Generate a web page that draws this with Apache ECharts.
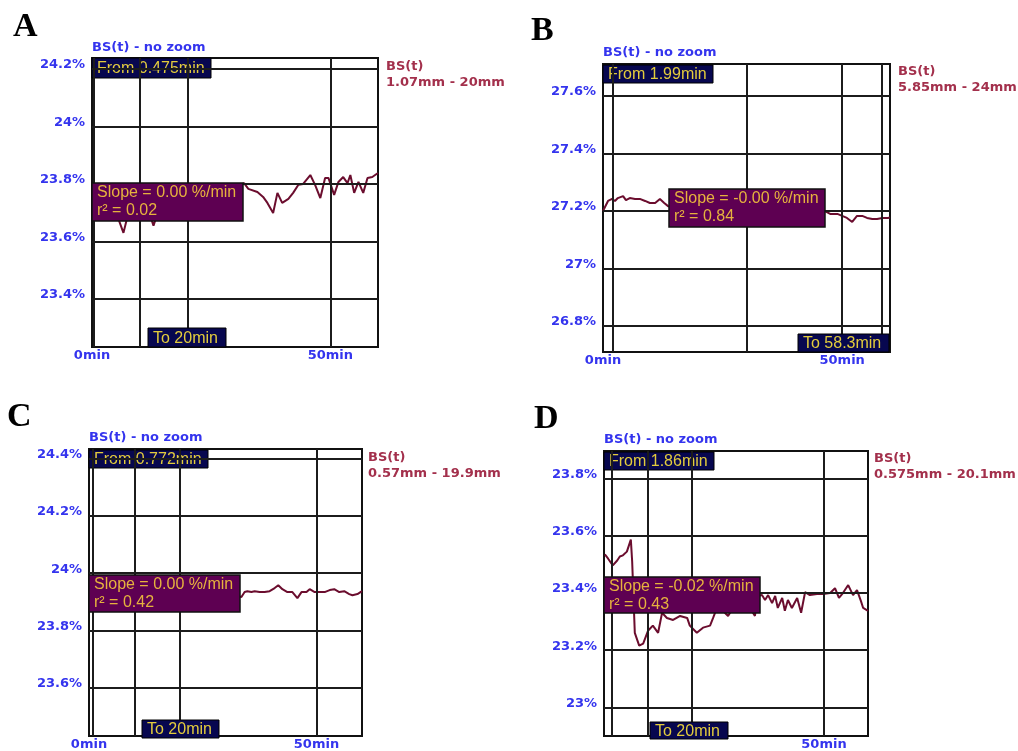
<!DOCTYPE html>
<html>
<head>
<meta charset="utf-8">
<script src="https://cdn.jsdelivr.net/npm/echarts@6/dist/echarts.min.js"></script>
<style>html,body{margin:0;padding:0;background:#fff;}#c{width:1018px;height:751px;}</style>
</head>
<body>
<div id="c"></div>
<script>
// ---------- data (time in min, BS in %) ----------
const aTime = [0.475, 1.5, 3, 4.5, 5.5, 6.6, 7.5, 9, 10.5, 12, 12.9, 13.8, 15, 17, 19, 21, 23, 25, 27, 29, 30.5, 31.9, 32.8, 34.7, 35.9, 36.8, 38.0, 38.9, 39.9, 41.2, 42.2, 43.3, 44.3, 45.8, 46.8, 47.9, 48.9, 49.6, 50.8, 51.7, 52.7, 53.6, 54.2, 55.0, 55.9, 56.9, 57.8, 58.8, 60.0];
const aVal  = [23.70, 23.71, 23.72, 23.70, 23.68, 23.63, 23.69, 23.72, 23.71, 23.70, 23.655, 23.70, 23.72, 23.73, 23.72, 23.74, 23.75, 23.74, 23.76, 23.77, 23.79, 23.803, 23.783, 23.772, 23.755, 23.734, 23.699, 23.769, 23.734, 23.748, 23.769, 23.797, 23.800, 23.831, 23.797, 23.751, 23.821, 23.821, 23.762, 23.807, 23.824, 23.803, 23.831, 23.769, 23.807, 23.769, 23.821, 23.824, 23.838];

const bTime = [0, 1.05, 1.9, 2.5, 3.1, 4.2, 4.8, 5.6, 6.7, 7.7, 8.8, 9.8, 10.9, 11.9, 12.8, 13.6, 15, 18, 21, 24, 27, 30, 33, 36, 39, 42, 45, 46.4, 47.5, 49.0, 50.0, 51.0, 52.1, 53.1, 54.2, 55.2, 56.3, 57.3, 58.4, 59.6, 60];
const bVal  = [27.200, 27.235, 27.242, 27.235, 27.245, 27.252, 27.238, 27.245, 27.242, 27.242, 27.235, 27.228, 27.228, 27.242, 27.228, 27.217, 27.215, 27.222, 27.212, 27.210, 27.206, 27.208, 27.200, 27.202, 27.196, 27.198, 27.195, 27.200, 27.190, 27.190, 27.183, 27.176, 27.162, 27.183, 27.183, 27.176, 27.172, 27.172, 27.176, 27.176, 27.178];

const cTime = [0, 0.772, 3, 6, 9, 12, 15, 18, 21, 24, 27, 30, 33.5, 34.2, 34.8, 35.7, 36.4, 37.5, 38.6, 39.7, 40.8, 41.6, 42.5, 43.6, 44.7, 45.8, 46.7, 47.8, 48.5, 49.6, 50.7, 51.8, 52.9, 53.9, 55.0, 56.1, 57.2, 57.9, 59.0, 60.0];
const cVal  = [23.917, 23.918, 23.922, 23.915, 23.925, 23.920, 23.928, 23.922, 23.930, 23.925, 23.932, 23.928, 23.917, 23.934, 23.937, 23.934, 23.937, 23.934, 23.934, 23.937, 23.948, 23.958, 23.944, 23.934, 23.934, 23.913, 23.934, 23.934, 23.944, 23.934, 23.934, 23.934, 23.941, 23.944, 23.934, 23.937, 23.927, 23.923, 23.927, 23.937];

const dTime = [0.2, 0.9, 2.0, 3.0, 3.6, 4.3, 5.2, 6.1, 6.4, 7.0, 8.0, 8.9, 10.0, 11.1, 12.3, 13.2, 14.3, 15.7, 17.3, 18.9, 19.5, 21.1, 22.5, 24.1, 24.8, 25.9, 27.0, 28.2, 29.3, 30.5, 32.0, 33.2, 34.3, 35.0, 35.9, 36.6, 37.3, 38.2, 38.9, 39.5, 40.5, 41.1, 41.8, 42.7, 43.9, 44.8, 45.7, 46.8, 48.4, 49.8, 51.4, 52.5, 53.4, 54.3, 55.5, 56.6, 57.5, 58.4, 58.9, 60.0];
const dVal  = [23.535, 23.521, 23.497, 23.514, 23.528, 23.532, 23.545, 23.587, 23.511, 23.261, 23.216, 23.223, 23.268, 23.286, 23.261, 23.331, 23.313, 23.306, 23.320, 23.313, 23.286, 23.261, 23.279, 23.286, 23.313, 23.358, 23.338, 23.320, 23.348, 23.365, 23.383, 23.348, 23.320, 23.390, 23.393, 23.376, 23.393, 23.365, 23.390, 23.348, 23.383, 23.338, 23.376, 23.348, 23.383, 23.331, 23.403, 23.393, 23.397, 23.397, 23.400, 23.417, 23.383, 23.400, 23.428, 23.393, 23.410, 23.372, 23.348, 23.338];

// y tick labels / horizontal grid lines
const aYTicks = [23.4, 23.6, 23.8, 24.0, 24.2];
const bYTicks = [26.8, 27.0, 27.2, 27.4, 27.6];
const cYTicks = [23.6, 23.8, 24.0, 24.2, 24.4];
const dYTicks = [23.0, 23.2, 23.4, 23.6, 23.8];
// x tick labels
const aXTicks = [0, 50];
const bXTicks = [0, 50];
const cXTicks = [0, 50];
const dXTicks = [50];
// From markers (min) and vertical grid lines / To markers (min)
const fromMarks = [0.475, 1.99, 0.772, 1.86];
const aVLines = [10, 20, 50];
const bVLines = [30, 50, 58.3];
const cVLines = [10, 20, 50];
const dVLines = [10, 20, 50];
// axis ranges
const aYRange = [23.233, 24.238];
const bYRange = [26.710, 27.711];
const cYRange = [23.430, 24.435];
const dYRange = [22.900, 23.897];
// texts
const panelLetters = ['A', 'B', 'C', 'D'];
const fromTexts = ['From 0.475min', 'From 1.99min', 'From 0.772min', 'From 1.86min'];
const toTexts = ['To 20min', 'To 58.3min', 'To 20min', 'To 20min'];
const slopeTexts = ['Slope = 0.00 %/min', 'Slope = -0.00 %/min', 'Slope = 0.00 %/min', 'Slope = -0.02 %/min'];
const r2Texts = ['r² = 0.02', 'r² = 0.84', 'r² = 0.42', 'r² = 0.43'];
const rangeTexts = ['1.07mm - 20mm', '5.85mm - 24mm', '0.57mm - 19.9mm', '0.575mm - 20.1mm'];

// ---------- styles / layout ----------
const BLUE = '#3434ee', MAROON = '#a3304c', LINE = '#6b0d2e', GRIDC = '#1c1c1c';
const NAVY = '#07074f', PURPLE = '#5e0052', YEL = '#e3cc3c', ORG = '#e6b23e';

const grids = [
  {left: 92, top: 58, width: 286, height: 289},
  {left: 603, top: 64, width: 287, height: 288},
  {left: 89, top: 449, width: 273, height: 289},
  {left: 604, top: 451, width: 264, height: 288}
];
const times = [aTime, bTime, cTime, dTime];
const vals = [aVal, bVal, cVal, dVal];
const yTicks = [aYTicks, bYTicks, cYTicks, dYTicks];
const xTicks = [aXTicks, bXTicks, cXTicks, dXTicks];
const vLines = [aVLines, bVLines, cVLines, dVLines];
const yRanges = [aYRange, bYRange, cYRange, dYRange];

// annotation boxes (pixel layout)
const fromBox = [[92,58,119,20],[603,65,110,18],[89,450,119,18],[604,452,110,18]];
const toBox = [[148,328,78,19],[798,334,91,18],[142,720,77,18],[650,722,78,17]];
const slopeBox = [[92,183,151,38],[669,189,156,38],[89,575,151,37],[604,577,156,36]];
const letterPos = [[13,10],[531,14],[7,400],[534,402]];
const titlePos = [[92,41],[603,46],[89,431],[604,433]];
const rightPos = [[386,59],[898,64],[368,450],[874,451]];

const fmtPct = v => String(+(+v).toFixed(1)) + '%';
const lblStyle = {color: BLUE, fontWeight: 'bold', fontSize: 13, fontFamily: 'DejaVu Sans'};

const option = {
  animation: false,
  grid: grids.map(g => Object.assign({show: true, borderColor: '#111', borderWidth: 2, backgroundColor: '#fff', containLabel: false}, g)),
  xAxis: grids.map((g, i) => ({
    type: 'value', gridIndex: i, min: 0, max: 60,
    axisLine: {show: false}, axisTick: {show: false}, splitLine: {show: false},
    axisLabel: Object.assign({customValues: xTicks[i], formatter: v => v + 'min', margin: 2}, lblStyle)
  })),
  yAxis: grids.map((g, i) => ({
    type: 'value', gridIndex: i, min: yRanges[i][0], max: yRanges[i][1],
    axisLine: {show: false}, axisTick: {show: false}, splitLine: {show: false},
    axisLabel: Object.assign({customValues: yTicks[i], formatter: fmtPct, margin: 7, verticalAlign: 'bottom', lineHeight: 8}, lblStyle)
  })),
  series: []
};

const mlBase = {silent: true, symbol: ['none', 'none'], label: {show: false}, lineStyle: {color: GRIDC, width: 2, type: 'solid'}};
for (let i = 0; i < 4; i++) {
  const data = times[i].map((t, k) => [t, vals[i][k]]);
  // horizontal grid lines + From marker (below the From box)
  option.series.push({
    type: 'line', xAxisIndex: i, yAxisIndex: i, z: 1, silent: true,
    data: data, symbol: 'none', lineStyle: {opacity: 0},
    markLine: Object.assign({data: yTicks[i].map(v => ({yAxis: v})).concat([{xAxis: fromMarks[i]}])}, mlBase)
  });
  // data line + vertical grid lines (above the From box)
  option.series.push({
    type: 'line', xAxisIndex: i, yAxisIndex: i, z: 3, silent: true,
    data: data, symbol: 'none', showSymbol: false,
    lineStyle: {color: LINE, width: 2},
    markLine: Object.assign({data: vLines[i].map(v => ({xAxis: v}))}, mlBase)
  });
}

const graphics = [];
const boxFont = {fontSize: 16, fontFamily: 'Liberation Sans'};
const txt = (z, x, y, text, fill, extra) => ({type: 'text', z: z, x: x, y: y,
  style: Object.assign({text: text, fill: fill, verticalAlign: 'middle'}, boxFont, extra || {})});
for (let i = 0; i < 4; i++) {
  const fb = fromBox[i], tb = toBox[i], sb = slopeBox[i];
  graphics.push({type: 'rect', z: 2, shape: {x: fb[0], y: fb[1], width: fb[2], height: fb[3]}, style: {fill: NAVY, stroke: '#000', lineWidth: 1}});
  graphics.push(txt(2, fb[0] + 5, fb[1] + fb[3] / 2 + 1, fromTexts[i], YEL));
  graphics.push({type: 'rect', z: 10, shape: {x: tb[0], y: tb[1], width: tb[2], height: tb[3]}, style: {fill: NAVY, stroke: '#000', lineWidth: 1}});
  graphics.push(txt(10, tb[0] + 5, tb[1] + tb[3] / 2 + 1, toTexts[i], YEL));
  graphics.push({type: 'rect', z: 10, shape: {x: sb[0], y: sb[1], width: sb[2], height: sb[3]}, style: {fill: PURPLE, stroke: '#111', lineWidth: 1.5}});
  graphics.push(txt(10, sb[0] + 5, sb[1] + 10, slopeTexts[i], ORG));
  graphics.push(txt(10, sb[0] + 5, sb[1] + 28, r2Texts[i], ORG));
  graphics.push({type: 'text', x: letterPos[i][0], y: letterPos[i][1], style: {text: panelLetters[i], fontSize: 34, fontWeight: 'bold', fontFamily: 'Liberation Serif', fill: '#000'}});
  graphics.push({type: 'text', x: titlePos[i][0], y: titlePos[i][1], style: {text: 'BS(t) - no zoom', fontSize: 13, fontWeight: 'bold', fontFamily: 'DejaVu Sans', fill: BLUE}});
  graphics.push({type: 'text', x: rightPos[i][0], y: rightPos[i][1], style: {text: 'BS(t)\n' + rangeTexts[i], fontSize: 13, fontWeight: 'bold', fontFamily: 'DejaVu Sans', fill: MAROON, lineHeight: 16}});
}
option.graphic = graphics;

const chart = echarts.init(document.getElementById('c'), null, {renderer: 'canvas'});
chart.setOption(option);
</script>
</body>
</html>
